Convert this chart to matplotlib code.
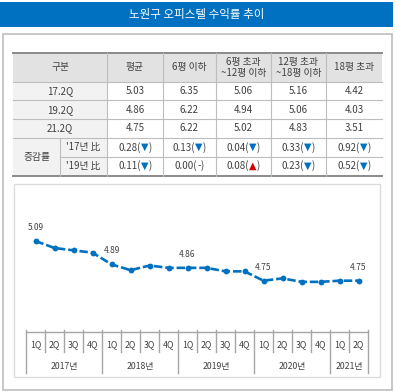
import matplotlib
matplotlib.use("Agg")
import matplotlib.pyplot as plt
from matplotlib.patches import Rectangle

plt.rcParams['font.family'] = ['Noto Sans CJK KR', 'DejaVu Sans']

# ------------------------------------------------------------
#  Datos
# ------------------------------------------------------------
title = "노원구 오피스텔 수익률 추이"

col_headers = ["구분", "평균", "6평 이하", "6평 초과\n~12평 이하", "12평 초과\n~18평 이하", "18평 초과"]
row_labels = ["17.2Q", "19.2Q", "21.2Q"]
r17 = [5.03, 6.35, 5.06, 5.16, 4.42]
r19 = [4.86, 6.22, 4.94, 5.06, 4.03]
r21 = [4.75, 6.22, 5.02, 4.83, 3.51]
chg_label = "증감률"
chg_rows = ["'17년 比", "'19년 比"]
chg17 = [0.28, 0.13, 0.04, 0.33, 0.92]
dir17 = ["▼", "▼", "▼", "▼", "▼"]
chg19 = [0.11, 0.00, 0.08, 0.23, 0.52]
dir19 = ["▼", "-", "▲", "▼", "▼"]

quarters = ["1Q", "2Q", "3Q", "4Q"] * 4 + ["1Q", "2Q"]
years = ["2017년", "2018년", "2019년", "2020년", "2021년"]
year_nq = [4, 4, 4, 4, 2]
values = [5.09, 5.03, 5.01, 4.99, 4.89, 4.84, 4.88, 4.86, 4.86,
          4.86, 4.83, 4.83, 4.75, 4.77, 4.74, 4.74, 4.75, 4.75]
labeled = [0, 4, 8, 12, 17]

BLUE = "#0070C0"
TXT = "#404040"
W, H = 395, 392

fig = plt.figure(figsize=(W / 100, H / 100), dpi=100)
bg = fig.add_axes([0, 0, 1, 1])
bg.set_xlim(0, W)
bg.set_ylim(H, 0)
bg.axis("off")

# --- barra de título ---
bg.add_patch(Rectangle((0, 2), W - 2, 25, color=BLUE, lw=0))
bg.text(197, 14.5, title, color="white", fontsize=8.3, ha="center", va="center")

# --- caja exterior y panel del gráfico ---
bg.add_patch(Rectangle((2.5, 33.5), 389, 356, fill=False, ec="#c4c4c4", lw=1.3))
bg.add_patch(Rectangle((13.5, 183.5), 366.5, 193.5, fill=False, ec="#dcdcdc", lw=1))

# ------------------------------------------------------------
#  Tabla
# ------------------------------------------------------------
cols = [13, 60, 107, 163, 216, 271, 326, 382]
rows = [53, 81.7, 100.3, 119, 137.7, 156.5, 175.5]
grid_c = "#bdbdbd"
fs = 7

# fondos
bg.add_patch(Rectangle((cols[0], rows[0]), cols[-1] - cols[0], rows[1] - rows[0], color="#e2e2e2", lw=0))
bg.add_patch(Rectangle((cols[0], rows[1]), cols[2] - cols[0], rows[-1] - rows[1], color="#f2f2f2", lw=0))

# líneas horizontales
for i, y in enumerate(rows[1:-1], start=1):
    x0 = cols[1] if i == 5 else cols[0]
    bg.plot([x0, cols[-1]], [y, y], color=grid_c, lw=0.8)
bg.plot([cols[0], cols[-1]], [rows[0], rows[0]], color="#8a8a8a", lw=1.4)
bg.plot([cols[0], cols[-1]], [rows[-1], rows[-1]], color="#8a8a8a", lw=1.4)
# líneas verticales
for x in cols[2:-1]:
    bg.plot([x, x], [rows[0], rows[-1]], color=grid_c, lw=0.8)
bg.plot([cols[1], cols[1]], [rows[4], rows[-1]], color=grid_c, lw=0.8)

# encabezado
head_x = [(cols[0] + cols[2]) / 2] + [(cols[i] + cols[i + 1]) / 2 for i in range(2, 7)]
for x, s in zip(head_x, col_headers):
    bg.text(x, (rows[0] + rows[1]) / 2, s, ha="center", va="center", fontsize=fs,
            color=TXT, linespacing=1.05)

cell_x = [(cols[i] + cols[i + 1]) / 2 for i in range(2, 7)]
for r, (lab, vals) in enumerate(zip(row_labels, [r17, r19, r21])):
    yc = (rows[r + 1] + rows[r + 2]) / 2
    bg.text((cols[0] + cols[2]) / 2, yc, lab, ha="center", va="center", fontsize=fs, color=TXT)
    for x, v in zip(cell_x, vals):
        bg.text(x, yc, f"{v:.2f}", ha="center", va="center", fontsize=fs, color=TXT)

bg.text((cols[0] + cols[1]) / 2, rows[5], chg_label, ha="center", va="center", fontsize=fs, color=TXT)

groups = []
arrow_col = {"▼": BLUE, "▲": "#d00000", "-": TXT}
for r, (lab, vals, dirs) in enumerate(zip(chg_rows, [chg17, chg19], [dir17, dir19])):
    yc = (rows[r + 4] + rows[r + 5]) / 2
    bg.text((cols[1] + cols[2]) / 2, yc, lab, ha="center", va="center", fontsize=fs, color=TXT)
    for x, v, d in zip(cell_x, vals, dirs):
        parts = [(f"{v:.2f}(", TXT), (d, arrow_col[d]), (")", TXT)]
        ts = [bg.text(0, yc, s, color=c, fontsize=fs, ha="left", va="center",
                      family=["DejaVu Sans"] if s in "▼▲" else None) for s, c in parts]
        groups.append((x, ts))

# ------------------------------------------------------------
#  Gráfico de líneas
# ------------------------------------------------------------
x0_px, cell = 26, 19
n = len(values)
top_px, bot_px = 190, 330
px_per_unit = 39.7 / 0.34
ymax = 5.09 + (241 - top_px) / px_per_unit
ymin = 5.09 - (bot_px - 241) / px_per_unit

ax = fig.add_axes([x0_px / W, (H - bot_px) / H, n * cell / W, (bot_px - top_px) / H])
ax.set_xlim(-0.5, n - 0.5)
ax.set_ylim(ymin, ymax)
ax.axis("off")
ax.patch.set_alpha(0)

xs = list(range(n))
ax.plot(xs, values, color=BLUE, lw=1.9, dashes=(3.2, 1.1), marker="o", markersize=4.2,
        markeredgewidth=0, solid_capstyle="butt")
for i in labeled:
    ax.annotate(f"{values[i]:.2f}", (xs[i], values[i]), xytext=(0, 6.5), textcoords="offset points",
                ha="center", va="bottom", fontsize=6, color=TXT)

# eje de categorías (dibujado en píxeles)
axis_y = 332
ax_c = "#a6a6a6"
bg.plot([x0_px, x0_px + n * cell], [axis_y, axis_y], color=ax_c, lw=1)
bounds = [x0_px + i * cell for i in range(n + 1)]
year_bounds = [0]
for k in year_nq:
    year_bounds.append(year_bounds[-1] + k)
for i, bx in enumerate(bounds):
    y_end = 373 if i in year_bounds else 352
    bg.plot([bx, bx], [axis_y - 2.5, y_end], color=ax_c, lw=1)
for i, q in enumerate(quarters):
    bg.text(x0_px + (i + 0.5) * cell, 344.5, q, ha="center", va="center", fontsize=6.3, color=TXT)
for j, yl in enumerate(years):
    xc = x0_px + (year_bounds[j] + year_bounds[j + 1]) / 2 * cell
    bg.text(xc, 366.5, yl, ha="center", va="center", fontsize=6.3, color=TXT)

# reposicionar textos compuestos (valor + flecha de color)
fig.canvas.draw()
rend = fig.canvas.get_renderer()
for xc, ts in groups:
    widths = [t.get_window_extent(rend).width for t in ts]
    x = xc - sum(widths) / 2
    for t, w in zip(ts, widths):
        t.set_x(x)
        x += w

fig.savefig("out.png", dpi=100)
